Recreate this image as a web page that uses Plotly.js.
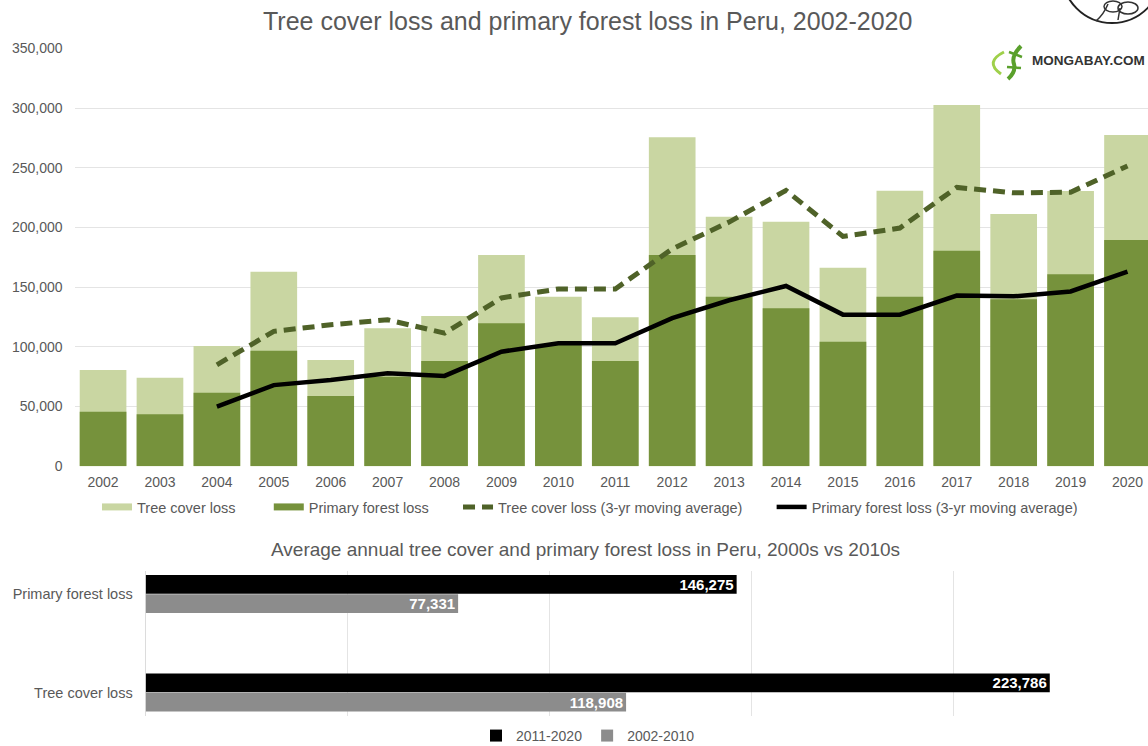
<!DOCTYPE html>
<html><head><meta charset="utf-8">
<script src="https://cdn.plot.ly/plotly-3.0.1.min.js"></script>
<style>html,body{margin:0;padding:0;background:#fff}#chart{width:1148px;height:746px}</style>
</head><body><div id="chart"></div>
<script>
// ---------- data ----------
const years = ['2002','2003','2004','2005','2006','2007','2008','2009','2010','2011','2012','2013','2014','2015','2016','2017','2018','2019','2020'];
const treeCoverLoss = [80600, 74200, 100700, 162900, 89000, 115500, 125800, 176900, 142000, 124800, 275500, 209000, 204800, 166300, 230800, 302500, 211300, 230500, 277400];
const primaryForestLoss = [45700, 43500, 61600, 96800, 58900, 75000, 88200, 119700, 101600, 88200, 176900, 142000, 132300, 104300, 142000, 180500, 139800, 160800, 189500];
const maYears = ['2004','2005','2006','2007','2008','2009','2010','2011','2012','2013','2014','2015','2016','2017','2018','2019','2020'];
const treeCoverMA = [85000, 113000, 118500, 122700, 111500, 141000, 148500, 148500, 182000, 204500, 231000, 192500, 199500, 233500, 229000, 229500, 251500];
const primaryMA = [50000, 68000, 72300, 78000, 75700, 96000, 103000, 103000, 124000, 139000, 151000, 127000, 127000, 143000, 142300, 146400, 163000];

const decadeCategories = ['Primary forest loss', 'Tree cover loss'];
const avg2011_2020 = [146275, 223786];
const avg2002_2010 = [77331, 118908];

// ---------- styling ----------
const W = 1148, H = 746;
const px = x => x / W;
const py = y => 1 - y / H;
const FONT = 'Liberation Sans, Arial, sans-serif';
const GREY = '#595959';
const LIGHT = '#c9d6a2', DARK = '#76923c', DASH = '#4f6228';
const pad = n => '\u00a0'.repeat(n);

const traces = [
  {type:'bar', x: years, y: treeCoverLoss, marker:{color: LIGHT}, name:'Tree cover loss', showlegend:false, xaxis:'x', yaxis:'y'},
  {type:'bar', x: years, y: primaryForestLoss, marker:{color: DARK}, name:'Primary forest loss', showlegend:false, xaxis:'x', yaxis:'y'},
  {type:'scatter', mode:'lines', x:[null], y:[null], name:'Tree cover loss' + pad(7), line:{color: LIGHT, width:7}, hoverinfo:'skip'},
  {type:'scatter', mode:'lines', x:[null], y:[null], name:'Primary forest loss' + pad(6), line:{color: DARK, width:7}, hoverinfo:'skip'},
  {type:'scatter', mode:'lines', x: maYears, y: treeCoverMA, name:'Tree cover loss (3-yr moving average)' + pad(6), line:{color: DASH, width:5, dash:'12px,7px'}},
  {type:'scatter', mode:'lines', x: maYears, y: primaryMA, name:'Primary forest loss (3-yr moving average)', line:{color:'#000', width:4.5}},
  {type:'bar', orientation:'h', y: decadeCategories, x: avg2011_2020, name:'2011-2020', marker:{color:'#000'},
   width:0.19, offset:-0.193, xaxis:'x2', yaxis:'y2', legend:'legend2',
   texttemplate:'%{x:,.0f}', textposition:'inside', insidetextanchor:'end', constraintext:'none', textangle:0,
   insidetextfont:{color:'#fff', size:15, family:FONT, weight:700}},
  {type:'bar', orientation:'h', y: decadeCategories, x: avg2002_2010, name:'2002-2010', marker:{color:'#8c8c8c'},
   width:0.19, offset:0.003, xaxis:'x2', yaxis:'y2', legend:'legend2',
   texttemplate:'%{x:,.0f}', textposition:'inside', insidetextanchor:'end', constraintext:'none', textangle:0,
   insidetextfont:{color:'#fff', size:15, family:FONT, weight:700}}
];

const layout = {
  width: W, height: H, autosize:false,
  margin:{l:0, r:0, t:0, b:0, autoexpand:false},
  paper_bgcolor:'#fff', plot_bgcolor:'rgba(0,0,0,0)',
  font:{family: FONT, color: GREY, size:14},
  barmode:'overlay', bargap:0.18,
  xaxis:{domain:[px(74.6), 1], type:'category', categoryorder:'array', categoryarray: years,
         range:[-0.5, 18.36], showgrid:false, zeroline:false, showline:false, ticks:'',
         tickfont:{size:14, color:GREY}, ticklabelstandoff:6, automargin:false},
  yaxis:{domain:[py(466.3), py(48.3)], range:[0, 350000], dtick:50000, tickformat:',',
         showgrid:true, gridcolor:'#e4e4e4', gridwidth:1, zeroline:false, showline:false, ticks:'',
         tickfont:{size:14, color:GREY}, ticklabelstandoff:11, automargin:false},
  xaxis2:{domain:[px(145.7), 1], anchor:'y2', range:[0, 248100], dtick:50000, showticklabels:false,
          showgrid:true, gridcolor:'#e4e4e4', zeroline:true, zerolinecolor:'#dcdcdc', zerolinewidth:1, showline:false, ticks:'', automargin:false},
  yaxis2:{domain:[py(716), py(571)], anchor:'x2', type:'category', categoryorder:'array', categoryarray: decadeCategories,
          range:[1.2386, -0.2335], showgrid:false, zeroline:false, showline:false, ticks:'',
          tickfont:{size:14.5, color:GREY}, ticklabelstandoff:12, automargin:false},
  legend:{orientation:'h', x: px(590), xanchor:'center', y: py(507), yanchor:'middle',
          font:{size:14.5, color:GREY}, bgcolor:'rgba(0,0,0,0)', traceorder:'normal'},
  legend2:{orientation:'h', x: px(588), xanchor:'center', y: -0.008, yanchor:'bottom',
          font:{size:14, color:GREY}, bgcolor:'rgba(0,0,0,0)'},
  annotations:[
    {text:'Tree cover loss and primary forest loss in Peru, 2002-2020', xref:'paper', yref:'paper',
     x: px(587), y: py(21), xanchor:'center', yanchor:'middle', showarrow:false,
     font:{size:25, color:GREY, family:FONT}},
    {text:'Average annual tree cover and primary forest loss in Peru, 2000s vs 2010s', xref:'paper', yref:'paper',
     x: px(585), y: py(549), xanchor:'center', yanchor:'middle', showarrow:false,
     font:{size:19, color:GREY, family:FONT}},
    {text:'MONGABAY.COM', xref:'paper', yref:'paper', x: px(1147), y: py(61), xanchor:'right', yanchor:'middle',
     showarrow:false, font:{size:13.5, color:'#333', family:FONT, weight:700}}
  ],
  shapes:[
    // circular logo (cut by the top edge)
    {type:'circle', xref:'paper', yref:'paper', x0:px(1062), x1:px(1162), y0:py(23), y1:py(-77),
     line:{color:'#222', width:2}},
    {type:'path', xref:'paper', yref:'paper', line:{color:'#333', width:1.5},
     path:`M${px(1096)},${py(21)} Q${px(1104)},${py(14)} ${px(1108)},${py(4)} M${px(1118)},${py(20)} L${px(1120)},${py(8)}`},
    {type:'circle', xref:'paper', yref:'paper', x0:px(1104), x1:px(1122), y0:py(12), y1:py(1), line:{color:'#333', width:1.5}},
    {type:'circle', xref:'paper', yref:'paper', x0:px(1118), x1:px(1138), y0:py(14), y1:py(2), line:{color:'#333', width:1.5}},
    // gecko
    {type:'path', xref:'paper', yref:'paper', line:{color:'#9fd04a', width:3},
     path:`M${px(1004)},${py(52)} Q${px(984)},${py(62)} ${px(1001)},${py(74)}`},
    {type:'path', xref:'paper', yref:'paper', line:{color:'#5aa02c', width:4},
     path:`M${px(1021)},${py(46)} Q${px(1011)},${py(56)} ${px(1014)},${py(64)} Q${px(1016)},${py(72)} ${px(1008)},${py(79)}`},
    {type:'path', xref:'paper', yref:'paper', line:{color:'#5aa02c', width:2.5},
     path:`M${px(1009)},${py(52)} L${px(1022)},${py(57)} M${px(1007)},${py(67)} L${px(1021)},${py(68)}`}
  ]
};

Plotly.newPlot('chart', traces, layout, {displayModeBar:false, staticPlot:true});
</script>
</body></html>
